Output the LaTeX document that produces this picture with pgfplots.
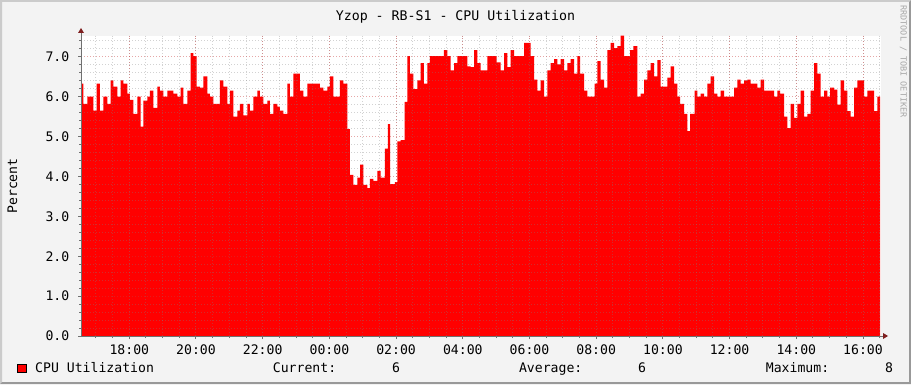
\documentclass[border=0pt]{standalone}
\usepackage{fontspec}
\setmonofont{DejaVu Sans Mono}
\usepackage{pgfplots}
\pgfplotsset{compat=1.18}
\usepackage{pgfplotstable}

\definecolor{rrdback}{HTML}{F3F3F3}
\definecolor{shadea}{HTML}{CBCBCB}
\definecolor{shadeb}{HTML}{999999}
\definecolor{mgrid}{RGB}{200,60,60}
\definecolor{axisgray}{HTML}{707070}
\definecolor{arrowred}{HTML}{7F1F1F}
\definecolor{marktext}{HTML}{A8A8A8}

\newcommand\rrdfont{\ttfamily\fontsize{13.2}{15}\selectfont}

% px = horizontal pixel position in the original graph (18:00 at 129.3, 33.35 px per hour)
\pgfplotstableread{
px cpu
81 6.33
83.3 5.82
87.3 6.0
93.3 5.65
96.7 6.33
100 5.65
103.3 6.0
107.3 5.82
110.7 6.41
113.3 6.25
117.3 6.0
120.7 6.41
123.3 6.33
127.3 6.08
130 5.92
133.3 5.57
137.3 6.0
140.7 5.25
143.3 5.9
147.3 6.0
150 6.15
153.3 5.72
157.3 6.25
160 6.15
163.3 6.0
167.3 6.15
173.3 6.08
177.3 6.0
180.7 6.23
183.3 5.82
187.3 6.15
190.7 7.09
193.3 7.02
196.7 6.25
200 6.23
203.3 6.51
207.3 6.08
210 6.0
213.3 5.82
220 6.41
223.3 6.25
227.3 5.82
230 6.15
233.3 5.5
237.3 5.65
240 5.82
243.3 5.53
247.3 5.82
250 5.65
253.3 6.0
257.3 6.15
260 6.0
263.3 5.82
267.3 5.9
270 5.57
273.3 5.82
277.3 5.75
280 5.65
283.3 5.57
287.3 6.33
290 6.0
293.3 6.58
300 6.15
303.3 6.0
307.3 6.33
320 6.23
323.3 6.15
327.3 6.25
330 6.51
333.3 6.0
340 6.41
343.3 6.33
347.3 5.19
350 4.04
353.3 3.79
357.3 3.97
360 4.3
363.3 3.79
367.3 3.71
370 3.94
373.3 3.89
377.3 4.14
380.7 3.97
385 4.7
388 5.31
390 3.81
395 3.86
397.3 4.88
400.7 4.91
404.7 5.87
407.3 7.02
410 6.58
413.3 6.19
417.3 6.41
420.7 6.84
424 6.33
427.3 6.84
430 7.02
444 7.17
447.3 7.02
450.7 6.66
454 6.84
457.3 7.02
467.3 6.76
470.7 6.74
474 7.17
477.3 6.84
480.7 6.66
487.3 7.02
496.7 6.86
500.7 6.66
504 7.09
507.3 6.74
510.7 7.17
514 7.02
524 7.35
530.7 7.02
534 6.43
537.3 6.15
540.7 6.41
544 6.0
547.3 6.66
550.7 6.84
554 6.94
557.3 6.81
560.7 6.94
564 6.66
567.3 6.84
570.7 6.94
574 6.58
577.3 7.02
580 6.58
584 6.15
587.3 6.0
594.7 6.33
597.3 6.89
600.7 6.43
604 6.23
607.3 7.17
610.7 7.35
614 7.22
617.3 7.27
620.7 7.53
624 7.02
630 7.17
633.3 7.27
637.3 6.0
640.7 6.08
644 6.43
647.3 6.66
650.7 6.84
654 6.51
657.3 6.92
660.7 6.25
667.3 6.48
670.7 6.76
674 6.33
677.3 6.0
680 5.82
684 5.57
687.3 5.14
690 5.57
694.7 6.15
697.3 6.0
700.7 6.08
704 6.0
707.3 6.33
710.7 6.51
714 6.08
717.3 6.0
720.7 6.15
724 6.0
734 6.23
737.3 6.43
740.7 6.33
744 6.41
747.3 6.43
750.7 6.33
757.3 6.23
760.7 6.43
764 6.15
774 6.0
777.3 6.15
780 6.08
784 5.5
787.3 5.21
790.7 5.82
794 5.47
797.3 5.82
800.7 6.15
804 5.5
807.3 5.57
810.7 6.15
814 6.84
817.3 6.58
820.7 6.0
824 6.15
827.3 6.0
830 6.23
834 6.18
837.3 5.8
840.7 6.41
844 6.15
847.3 5.64
850.7 5.5
854 6.23
857.3 6.41
864 6.0
867.3 6.15
874 5.64
877.3 6.0
880 6.0
}\cpudata

\begin{document}
\begin{tikzpicture}[x=1bp,y=1bp]
\fill[rrdback] (0,0) rectangle (911,384);
\fill[shadea] (0,0) -- (0,384) -- (911,384) -- (909,382) -- (2,382) -- (2,2) -- cycle;
\fill[shadeb] (0,0) -- (911,0) -- (911,384) -- (909,382) -- (909,2) -- (2,2) -- cycle;

\begin{axis}[
  at={(81bp,48bp)}, anchor=south west,
  scale only axis, width=800bp, height=300.3bp,
  xmin=16.552, xmax=40.54, ymin=0, ymax=7.53,
  axis background/.style={fill=white},
  axis line style={draw=none},
  xtick={18,20,...,40},
  xticklabels={18:00,20:00,22:00,00:00,02:00,04:00,06:00,08:00,10:00,12:00,14:00,16:00},
  minor xtick={16.5,17,...,40.5},
  ytick={0,1,...,7},
  yticklabels={0.0,1.0,2.0,3.0,4.0,5.0,6.0,7.0},
  minor ytick={0.2,0.4,0.6,0.8,1.2,1.4,1.6,1.8,2.2,2.4,2.6,2.8,3.2,3.4,3.6,3.8,4.2,4.4,4.6,4.8,5.2,5.4,5.6,5.8,6.2,6.4,6.6,6.8,7.2,7.4},
  grid=both,
  major grid style={mgrid, opacity=0.45, dash pattern=on 1bp off 2bp, line width=1bp},
  minor grid style={gray, opacity=0.35, dash pattern=on 1bp off 2bp, line width=1bp},
  tick align=outside, major tick length=3bp, minor tick length=2bp,
  tick style={axisgray, line width=1bp},
  xtick pos=bottom, ytick pos=left,
  xticklabel style={font=\rrdfont, anchor=base, inner sep=0pt, yshift=-15bp},
  yticklabel style={font=\rrdfont, anchor=east, inner sep=0pt, xshift=-8.5bp},
  axis on top,
]
\addplot[draw=none, fill=red, const plot,
  x filter/.expression={(x-129.3)/33.35+18}]
  table[x=px, y=cpu] {\cpudata} \closedcycle;
\end{axis}

% axes with arrows
\draw[axisgray, line width=1bp] (81,48) -- (884,48);
\draw[axisgray, line width=1bp] (81,48) -- (81,352);
\fill[arrowred] (883,45) -- (888,48) -- (883,51) -- cycle;
\fill[arrowred] (78,351) -- (81,356) -- (84,351) -- cycle;

% title and labels
\node[anchor=base, inner sep=0pt, font=\ttfamily\fontsize{13.3}{15}\selectfont] at (455.5,364) {Yzop - RB-S1 - CPU Utilization};
\node[rotate=90, anchor=base, inner sep=0pt, font=\rrdfont] at (17,198) {Percent};
\node[rotate=-90, anchor=base, inner sep=0pt, font=\ttfamily\fontsize{8.5}{10}\selectfont, text=marktext] at (900.5,322.5) {RRDTOOL / TOBI OETIKER};

% legend
\draw[black, fill=red, line width=1bp] (17.8,11.8) rectangle (26.8,19.8);
\begin{scope}[every node/.style={anchor=base west, inner sep=0pt, font=\rrdfont}]
\node at (35,11.3) {CPU Utilization};
\node at (272.7,11.3) {Current:};
\node at (392,11.3) {6};
\node at (518.8,11.3) {Average:};
\node at (638,11.3) {6};
\node at (765.7,11.3) {Maximum:};
\node at (885,11.3) {8};
\end{scope}
\pgfresetboundingbox
\useasboundingbox (0,0) rectangle (911,384);
\end{tikzpicture}
\end{document}
